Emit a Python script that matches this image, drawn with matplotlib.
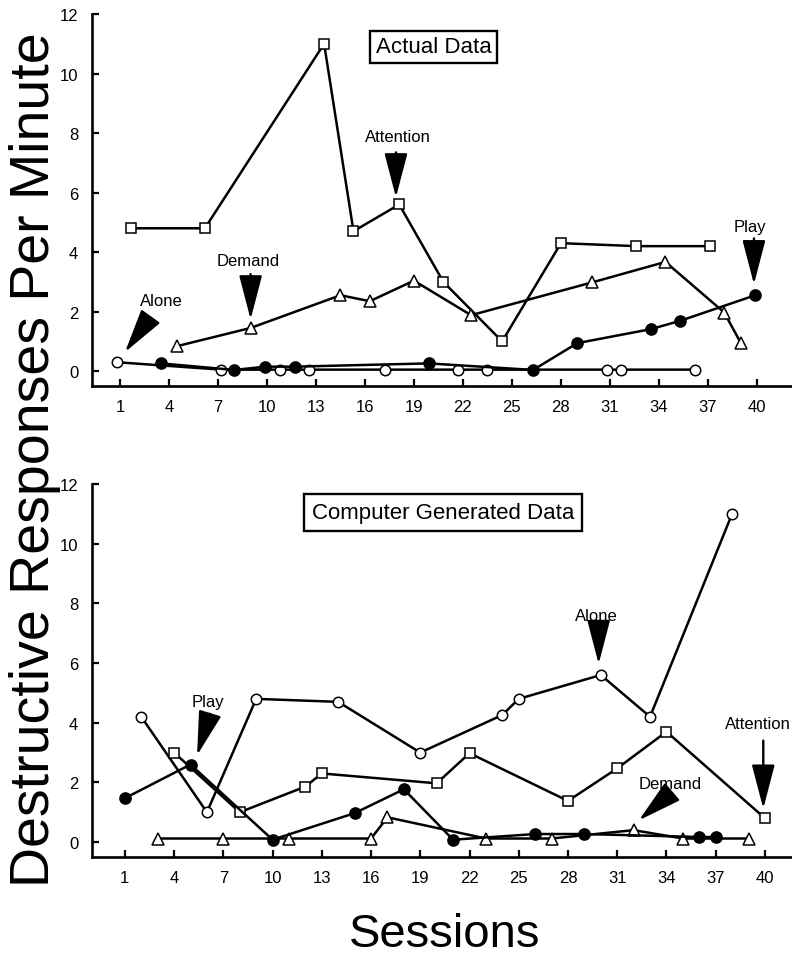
import matplotlib
matplotlib.use("Agg")
import matplotlib.pyplot as plt

plt.rcParams['font.family'] = ['Liberation Sans', 'DejaVu Sans']

# axis ticks
session_ticks = [1, 4, 7, 10, 13, 16, 19, 22, 25, 28, 31, 34, 37, 40]
rate_ticks = [0, 2, 4, 6, 8, 10, 12]

# top panel - actual data (session position, responses per minute)
act_alone_x = [0.8, 7.2, 10.8, 12.6, 17.2, 21.7, 23.5, 30.8, 31.7, 36.2]
act_alone_y = [0.3, 0.05, 0.05, 0.05, 0.05, 0.05, 0.05, 0.05, 0.05, 0.05]
act_play_x = [3.5, 8.0, 9.9, 11.7, 19.9, 26.3, 29.0, 33.5, 35.3, 39.9]
act_play_y = [0.26, 0.04, 0.15, 0.15, 0.26, 0.04, 0.94, 1.41, 1.69, 2.55]
act_attn_x = [1.7, 6.2, 13.5, 15.3, 18.1, 20.8, 24.4, 28.0, 32.6, 37.1]
act_attn_y = [4.8, 4.8, 11.0, 4.7, 5.6, 3.0, 1.0, 4.3, 4.2, 4.2]
act_dem_x = [4.5, 9.0, 14.5, 16.3, 19.0, 22.5, 29.9, 34.4, 38.0, 39.0]
act_dem_y = [0.84, 1.45, 2.55, 2.35, 3.04, 1.88, 2.98, 3.67, 1.97, 0.96]

# bottom panel - computer generated data
gen_alone_x = [2, 6, 9, 14, 19, 24, 25, 30, 33, 38]
gen_alone_y = [4.2, 1.0, 4.8, 4.7, 3.0, 4.26, 4.8, 5.6, 4.2, 11.0]
gen_attn_x = [4, 8, 12, 13, 20, 22, 28, 31, 34, 40]
gen_attn_y = [3.0, 1.0, 1.86, 2.3, 1.97, 2.98, 1.38, 2.47, 3.7, 0.8]
gen_play_x = [1, 5, 10, 15, 18, 21, 26, 29, 36, 37]
gen_play_y = [1.47, 2.6, 0.08, 0.97, 1.77, 0.08, 0.27, 0.27, 0.17, 0.17]
gen_dem_x = [3, 7, 11, 16, 17, 23, 27, 32, 35, 39]
gen_dem_y = [0.12, 0.12, 0.12, 0.12, 0.83, 0.12, 0.12, 0.4, 0.12, 0.12]


def series(ax, x, y, marker, filled=False, ms=7.5):
    ax.plot(x, y, color='black', lw=1.8, marker=marker, ms=ms,
            mfc='black' if filled else 'white', mec='black', mew=1.1,
            clip_on=False, zorder=3)


def arrow(ax, tail, head):
    ax.annotate('', xy=head, xytext=tail,
                arrowprops=dict(arrowstyle='-|>,head_length=2.3,head_width=0.6',
                                color='black', lw=1.7, shrinkA=0, shrinkB=0,
                                mutation_scale=12))


def style(ax, xlim):
    ax.set_xlim(*xlim)
    ax.set_ylim(-0.5, 12)
    ax.set_xticks(session_ticks)
    ax.set_yticks(rate_ticks)
    for s in ['top', 'right']:
        ax.spines[s].set_visible(False)
    for s in ['left', 'bottom']:
        ax.spines[s].set_linewidth(1.9)
    ax.tick_params(axis='both', direction='in', length=5, width=1.6, labelsize=12)
    ax.tick_params(axis='x', pad=9)
    ax.tick_params(axis='y', pad=10)


fig = plt.figure(figsize=(7.92, 9.62), dpi=100)
ax1 = fig.add_axes([0.1162, 0.5977, 0.8838, 0.3867])
ax2 = fig.add_axes([0.1162, 0.1081, 0.8838, 0.3877])

# top panel
series(ax1, act_attn_x, act_attn_y, 's')
series(ax1, act_dem_x, act_dem_y, '^', ms=8.5)
series(ax1, act_alone_x, act_alone_y, 'o')
series(ax1, act_play_x, act_play_y, 'o', filled=True, ms=8)
style(ax1, (-0.71, 42.15))

ax1.text(20.2, 10.9, 'Actual Data', fontsize=16, ha='center', va='center',
         bbox=dict(boxstyle='square,pad=0.25', fc='white', ec='black', lw=1.7))
ax1.text(3.55, 2.36, 'Alone', fontsize=12, ha='center', va='center')
arrow(ax1, (2.84, 1.81), (1.31, 0.64))
ax1.text(8.84, 3.72, 'Demand', fontsize=12, ha='center', va='center')
arrow(ax1, (9.0, 3.26), (9.0, 1.74))
ax1.text(18.0, 7.89, 'Attention', fontsize=12, ha='center', va='center')
arrow(ax1, (17.9, 7.35), (17.9, 5.84))
ax1.text(39.6, 4.87, 'Play', fontsize=12, ha='center', va='center')
arrow(ax1, (39.82, 4.46), (39.82, 2.92))

# bottom panel
series(ax2, gen_alone_x, gen_alone_y, 'o')
series(ax2, gen_attn_x, gen_attn_y, 's')
series(ax2, gen_dem_x, gen_dem_y, '^', ms=8.5)
series(ax2, gen_play_x, gen_play_y, 'o', filled=True, ms=8)
style(ax2, (-1.0, 41.65))

ax2.text(20.4, 11.05, 'Computer Generated Data', fontsize=16, ha='center', va='center',
         bbox=dict(boxstyle='square,pad=0.35', fc='white', ec='black', lw=1.7))
ax2.text(6.04, 4.71, 'Play', fontsize=12, ha='center', va='center')
arrow(ax2, (6.18, 4.3), (5.4, 2.91))
ax2.text(29.7, 7.61, 'Alone', fontsize=12, ha='center', va='center')
arrow(ax2, (29.87, 7.16), (29.87, 5.97))
ax2.text(41.55, 3.96, 'Attention', fontsize=12, ha='right', va='center')
arrow(ax2, (39.9, 3.4), (39.9, 1.12))
ax2.text(34.25, 1.96, 'Demand', fontsize=12, ha='center', va='center')
arrow(ax2, (34.1, 1.57), (32.32, 0.73))

fig.text(0.044, 1 - 460 / 962, 'Destructive Responses Per Minute', rotation=90,
         fontsize=40, ha='center', va='center')
fig.text(0.561, 1 - 935 / 962, 'Sessions', fontsize=34, ha='center', va='center')

fig.savefig('out.png', dpi=100)
